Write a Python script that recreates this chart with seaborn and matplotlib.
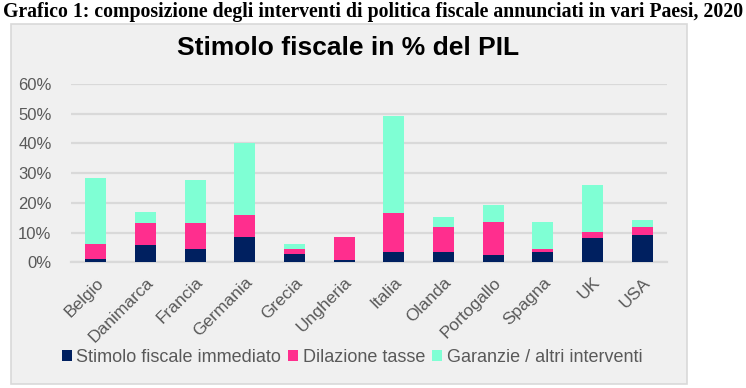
import numpy as np
import pandas as pd
import matplotlib
matplotlib.use("Agg")
import matplotlib.pyplot as plt
import seaborn as sns
from matplotlib.patches import Rectangle, Patch

paesi = ["Belgio", "Danimarca", "Francia", "Germania", "Grecia", "Ungheria",
         "Italia", "Olanda", "Portogallo", "Spagna", "UK", "USA"]
stimolo = [1.1, 5.8, 4.5, 8.5, 2.9, 0.8, 3.5, 3.5, 2.5, 3.5, 8.2, 9.2]
dilazione = [5.1, 7.4, 8.7, 7.4, 1.6, 7.7, 13.1, 8.4, 11.1, 1.0, 2.0, 2.7]
garanzie = [22.2, 3.7, 14.5, 24.3, 1.7, 0.0, 32.7, 3.3, 5.7, 9.1, 15.8, 2.3]
serie = ["Stimolo fiscale immediato", "Dilazione tasse", "Garanzie / altri interventi"]
colori = ["#002060", "#FF2E8E", "#7FFFD4"]

df = pd.DataFrame({"paese": paesi, "s1": stimolo, "s2": dilazione, "s3": garanzie})
df["c1"] = df["s1"]
df["c2"] = df["c1"] + df["s2"]
df["c3"] = df["c2"] + df["s3"]

sns.set_theme(style="white")
plt.rcParams["font.family"] = ["Liberation Sans", "DejaVu Sans"]

fig = plt.figure(figsize=(7.46, 3.88), dpi=100)
fig.patch.set_facecolor("white")

# grey chart panel
fig.add_artist(Rectangle((11 / 746, 1 - 384 / 388), (687 - 11) / 746, (384 - 24) / 388,
                         transform=fig.transFigure, facecolor="#F0F0F0",
                         edgecolor="#D9D9D9", linewidth=1.2, zorder=0))

ax = fig.add_axes([71 / 746, 1 - 262.3 / 388, (667 - 71) / 746, (262.3 - 84) / 388])
ax.set_facecolor("none")

# stacked bars drawn back to front
for col, c in zip(["c3", "c2", "c1"], colori[::-1]):
    sns.barplot(data=df, x="paese", y=col, color=c, width=0.42, errorbar=None,
                saturation=1, linewidth=0, ax=ax, zorder=3)

ax.set_ylim(0, 60)
ax.set_xlim(-0.5, len(paesi) - 0.5)
ax.set_yticks(np.arange(0, 61, 10))
ax.set_yticklabels([f"{v}%" for v in range(0, 61, 10)], color="#595959", fontsize=12)
ax.yaxis.grid(True, color="#D9D9D9", linewidth=1.6, zorder=0)
ax.set_axisbelow(True)
ax.set_xlabel("")
ax.set_ylabel("")
for s in ["top", "right", "left"]:
    ax.spines[s].set_visible(False)
ax.spines["bottom"].set_color("#D9D9D9")
ax.spines["bottom"].set_linewidth(1.6)
ax.tick_params(axis="both", length=0)
ax.tick_params(axis="x", pad=9)
ax.tick_params(axis="y", pad=14)
plt.setp(ax.get_xticklabels(), rotation=45, ha="right", rotation_mode="anchor",
         color="#595959", fontsize=12.5)

fig.text(348 / 746, 1 - 48 / 388, "Stimolo fiscale in % del PIL", ha="center", va="center",
         fontsize=19, fontweight="bold", color="black")
fig.text(373 / 746, 1 - 12 / 388,
         "Grafico 1: composizione degli interventi di politica fiscale annunciati in vari Paesi, 2020",
         ha="center", va="center", fontsize=14.2, fontweight="bold",
         family=["Liberation Serif", "DejaVu Serif"], color="black")

handles = [Patch(facecolor=c, edgecolor="none") for c in colori]
fig.legend(handles, serie, loc="center", bbox_to_anchor=(352 / 746, 1 - 357 / 388),
           ncol=3, frameon=False, fontsize=13, handlelength=0.55, handleheight=0.55,
           handletextpad=0.25, columnspacing=0.4, labelcolor="#595959")

fig.savefig("out.png", dpi=100)
